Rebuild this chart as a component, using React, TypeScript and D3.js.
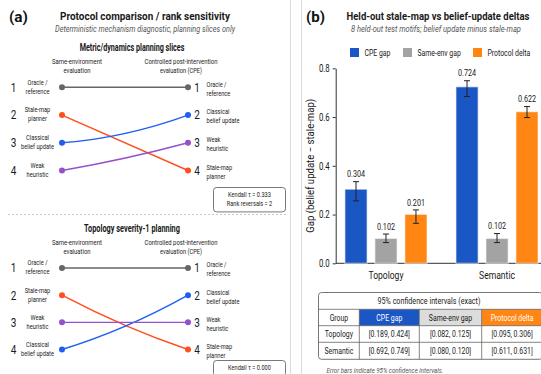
import { useEffect, useRef } from "react";
import * as d3 from "d3";

// panel (a): rank slope charts
const methodLines = [["Oracle /", "reference"], ["Stale-map", "planner"], ["Classical", "belief update"], ["Weak", "heuristic"]];
const methodColors = ["#666666", "#ff4f1f", "#1f5ff0", "#9550cc"];
const sliceTitles = ["Metric/dynamics planning slices", "Topology severity-1 planning"];
// ranks per method (Oracle, Stale-map, Classical, Weak)
const sameEnvRanks = [[1, 2, 3, 4], [1, 2, 4, 3]];
const cpeRanks = [[1, 4, 2, 3], [1, 4, 2, 3]];
const kendallLines = [["Kendall τ = 0.333", "Rank reversals = 2"], ["Kendall τ = 0.000"]];

// panel (b): grouped bars
const groups = ["Topology", "Semantic"];
const seriesNames = ["CPE gap", "Same-env gap", "Protocol delta"];
const seriesColors = ["#1a56c4", "#a3a3a3", "#ff8612"];
const gapValues = [[0.304, 0.102, 0.201], [0.724, 0.102, 0.622]];
const errLow = [[0.256, 0.085, 0.164], [0.684, 0.085, 0.598]];
const errHigh = [[0.335, 0.12, 0.219], [0.749, 0.122, 0.643]];
const yTicks = [0, 0.2, 0.4, 0.6, 0.8];
const ciRows = [
  ["[0.189, 0.424]", "[0.082, 0.125]", "[0.095, 0.306]"],
  ["[0.692, 0.749]", "[0.080, 0.120]", "[0.611, 0.631]"],
];

const FONT = "Roboto, 'Liberation Sans', sans-serif";
const SQUEEZE = 0.78; // fake a condensed face
// how much each connecting line bows downward
const lineSag = [[0, 0, 9, 3], [0, 6, 8, 0]];
const rankRange = [[87.3, 170.5], [268, 349.5]];
const sliceTop = [0, 181];
const kendallBoxY = [187.5, 360.5];

type Opts = { size?: number; bold?: boolean; italic?: boolean; anchor?: string; fill?: string; width?: number; rotate?: number; squeeze?: number };

// text squeezed horizontally, either by a fixed factor or to a measured width
function txt(parent: any, x: number, y: number, s: string | number, o: Opts = {}) {
  const t = parent.append("text")
    .attr("font-size", o.size ?? 8)
    .attr("font-weight", o.bold ? "bold" : null)
    .attr("font-style", o.italic ? "italic" : null)
    .attr("text-anchor", o.anchor ?? "start")
    .attr("fill", o.fill ?? "#1a1a1a")
    .attr("dy", "0.35em")
    .text(s);
  let k = o.squeeze ?? SQUEEZE;
  if (o.width) {
    const natural = (t.node() as SVGTextElement).getComputedTextLength();
    if (natural > 0) k = o.width / natural;
  }
  t.attr("transform", `translate(${x},${y})${o.rotate ? ` rotate(${o.rotate})` : ""} scale(${k},1)`);
  return t;
}

function App() {
  const node = useRef<HTMLDivElement>(null);

  useEffect(() => {
    d3.select(node.current).selectAll("*").remove();
    const svg = d3.select(node.current)
      .append("svg")
      .attr("width", 541)
      .attr("height", 374)
      .style("display", "block")
      .style("font-family", FONT);

    svg.append("rect").attr("width", 541).attr("height", 374).attr("fill", "white");

    // ---------- panel (a)
    txt(svg, 9, 16.5, "(a)", { size: 15, bold: true, fill: "#111", width: 19 });
    txt(svg, 145, 16, "Protocol comparison / rank sensitivity", { size: 11.8, bold: true, anchor: "middle", width: 170 });
    txt(svg, 145, 29, "Deterministic mechanism diagnostic, planning slices only", { size: 8.6, italic: true, anchor: "middle", fill: "#555", width: 180 });

    svg.append("line").attr("x1", 8).attr("x2", 286).attr("y1", 214.5).attr("y2", 214.5)
      .attr("stroke", "#bdbdbd").attr("stroke-dasharray", "2,2").attr("stroke-width", 0.8);
    svg.append("line").attr("x1", 290.5).attr("x2", 290.5).attr("y1", 0).attr("y2", 374)
      .attr("stroke", "#dadada");
    svg.append("line").attr("x1", 301.5).attr("x2", 301.5).attr("y1", 0).attr("y2", 374)
      .attr("stroke", "#dadada");

    const xLeft = 62, xRight = 188;
    sliceTitles.forEach((title, s) => {
      const g = svg.append("g").attr("transform", `translate(0,${sliceTop[s]})`);
      const y = d3.scaleLinear().domain([1, 4]).range(rankRange[s].map((v) => v - sliceTop[s]));

      txt(g, 132, 47, title, { size: 10, bold: true, anchor: "middle", width: s === 0 ? 105 : 96 });
      txt(g, 77, 61, "Same-environment", { size: 7.6, anchor: "middle", fill: "#222", width: 50 });
      txt(g, 77, 70, "evaluation", { size: 7.6, anchor: "middle", fill: "#222", width: 27 });
      txt(g, 181, 61, "Controlled post-intervention", { size: 7.6, anchor: "middle", fill: "#222", width: 73 });
      txt(g, 181, 70, "evaluation (CPE)", { size: 7.6, anchor: "middle", fill: "#222", width: 42 });

      methodLines.forEach((lines, m) => {
        const y0 = y(sameEnvRanks[s][m]);
        const y1 = y(cpeRanks[s][m]);
        const path = d3.path();
        path.moveTo(xLeft, y0);
        path.quadraticCurveTo((xLeft + xRight) / 2, (y0 + y1) / 2 + lineSag[s][m], xRight, y1);
        g.append("path").attr("d", path.toString()).attr("fill", "none")
          .attr("stroke", methodColors[m]).attr("stroke-width", 1.4);
        g.append("circle").attr("cx", xLeft).attr("cy", y0).attr("r", 3).attr("fill", methodColors[m]);
        g.append("circle").attr("cx", xRight).attr("cy", y1).attr("r", 3).attr("fill", methodColors[m]);

        txt(g, 13.5, y0, sameEnvRanks[s][m], { size: 12.5, anchor: "middle", squeeze: 0.8 });
        lines.forEach((t, i) => txt(g, 37.5, y0 - 5.3 + i * 9, t, { size: 7.7, anchor: "middle", squeeze: 0.74 }));
        txt(g, 197, y1, cpeRanks[s][m], { size: 12.5, anchor: "middle", squeeze: 0.8 });
        lines.forEach((t, i) => txt(g, 206.5, y1 - 3.3 + i * 9, t, { size: 7.7, squeeze: 0.74 }));
      });
    });

    kendallLines.forEach((kl, s) => {
      svg.append("rect").attr("x", 213.5).attr("y", kendallBoxY[s]).attr("width", 72).attr("height", 5 + kl.length * 8.7 + 2)
        .attr("rx", 3).attr("fill", "white").attr("stroke", "#555").attr("stroke-width", 0.8);
      kl.forEach((t, i) => txt(svg, 249.5, kendallBoxY[s] + 7.3 + i * 8.7, t, { size: 7.4, anchor: "middle", squeeze: 0.76 }));
    });

    // ---------- panel (b)
    txt(svg, 306, 16.5, "(b)", { size: 15, bold: true, fill: "#111", width: 19 });
    txt(svg, 438, 16, "Held-out stale-map vs belief-update deltas", { size: 11.8, bold: true, anchor: "middle", width: 183 });
    txt(svg, 436, 29.3, "8 held-out test motifs; belief update minus stale-map", { size: 8.6, italic: true, anchor: "middle", fill: "#555", width: 170 });

    const legendX = [350, 403, 473];
    seriesNames.forEach((name, i) => {
      svg.append("rect").attr("x", legendX[i]).attr("y", 48).attr("width", 9).attr("height", 9).attr("fill", seriesColors[i]);
      txt(svg, legendX[i] + 14.5, 52.5, name, { size: 9.3, squeeze: 0.74 });
    });

    const y = d3.scaleLinear().domain([0, 0.8]).range([263.3, 68.3]);
    const x0 = d3.scaleBand().domain(groups).range([341, 542]).paddingInner(0.19);
    const x1 = d3.scaleBand().domain(seriesNames).range([0, x0.bandwidth()]).paddingInner(0.26).paddingOuter(0.13);

    const yAxis = svg.append("g").attr("transform", "translate(335.7,0)")
      .call(d3.axisLeft(y).tickValues(yTicks).tickFormat(d3.format(".1f")).tickSize(3).tickSizeOuter(0));
    yAxis.select(".domain").attr("stroke", "#333");
    yAxis.selectAll(".tick line").attr("stroke", "#333");
    yAxis.selectAll(".tick text").attr("font-family", FONT).attr("font-size", 10).attr("fill", "#1a1a1a")
      .attr("transform", `scale(${SQUEEZE},1)`).attr("x", -6 / SQUEEZE);

    svg.append("line").attr("x1", 335.7).attr("x2", 541).attr("y1", 263.3).attr("y2", 263.3).attr("stroke", "#333");

    txt(svg, 310.5, y(0.4), "Gap (belief update − stale-map)", { size: 10.3, anchor: "middle", width: 134, rotate: -90 });

    groups.forEach((grp, gi) => {
      const gx = x0(grp)!;
      seriesNames.forEach((sn, si) => {
        const bx = gx + x1(sn)!;
        const bw = x1.bandwidth();
        const v = gapValues[gi][si];
        svg.append("rect").attr("x", bx).attr("y", y(v)).attr("width", bw).attr("height", y(0) - y(v))
          .attr("fill", seriesColors[si]).attr("stroke", "white").attr("stroke-opacity", 0.55).attr("stroke-width", 1.2);
        const cx = bx + bw / 2;
        const lo = y(errLow[gi][si]), hi = y(errHigh[gi][si]);
        svg.append("line").attr("x1", cx).attr("x2", cx).attr("y1", lo).attr("y2", hi).attr("stroke", "#222").attr("stroke-width", 1);
        [lo, hi].forEach((yy) => {
          svg.append("line").attr("x1", cx - 3).attr("x2", cx + 3).attr("y1", yy).attr("y2", yy)
            .attr("stroke", "#222").attr("stroke-width", 1);
        });
        txt(svg, cx, hi - 7.7, d3.format(".3f")(v), { size: 9.5, anchor: "middle", squeeze: 0.76 });
      });
      txt(svg, gx + x0.bandwidth() / 2, 274.5, grp, { size: 11.5, anchor: "middle", width: grp === "Topology" ? 35 : 36 });
    });

    // confidence interval table
    const tX = 318.5, tY = 292.5, tW = 224, rowsY = [292.5, 309.3, 325.7, 342.3, 359.3];
    const colX = [318.5, 359.3, 419.3, 481.7, 542.5];
    const headFill = ["none", seriesColors[0], "#dcdcdc", seriesColors[2]];
    const headText = ["#1a1a1a", "white", "#1a1a1a", "white"];
    const heads = ["Group", ...seriesNames];
    heads.forEach((h, i) => {
      if (headFill[i] !== "none") {
        svg.append("rect").attr("x", colX[i]).attr("y", rowsY[1]).attr("width", colX[i + 1] - colX[i])
          .attr("height", rowsY[2] - rowsY[1]).attr("fill", headFill[i]);
      }
      txt(svg, (colX[i] + colX[i + 1]) / 2, (rowsY[1] + rowsY[2]) / 2, h, { size: 9.3, anchor: "middle", squeeze: 0.74, fill: headText[i] });
    });
    svg.append("rect").attr("x", tX).attr("y", tY).attr("width", tW).attr("height", rowsY[4] - tY)
      .attr("rx", 3).attr("fill", "none").attr("stroke", "#666").attr("stroke-width", 0.9);
    rowsY.slice(1, 4).forEach((ry) => {
      svg.append("line").attr("x1", tX).attr("x2", tX + tW).attr("y1", ry).attr("y2", ry).attr("stroke", "#666").attr("stroke-width", 0.8);
    });
    colX.slice(1, 4).forEach((cx) => {
      svg.append("line").attr("x1", cx).attr("x2", cx).attr("y1", rowsY[1]).attr("y2", rowsY[4]).attr("stroke", "#666").attr("stroke-width", 0.8);
    });
    txt(svg, 429, (rowsY[0] + rowsY[1]) / 2, "95% confidence intervals (exact)", { size: 9.3, anchor: "middle", width: 103 });
    groups.forEach((grp, r) => {
      const cy = (rowsY[r + 2] + rowsY[r + 3]) / 2;
      [grp, ...ciRows[r]].forEach((t, c) => {
        txt(svg, (colX[c] + colX[c + 1]) / 2, cy, t, { size: 9.3, anchor: "middle", squeeze: 0.74 });
      });
    });

    txt(svg, 326.5, 370, "Error bars indicate 95% confidence intervals.", { size: 7.8, italic: true, fill: "#555", width: 117 });
  }, []);

  return (
    <>
      <style>{"body{margin:0}"}</style>
      <div ref={node}></div>
    </>
  );
}

export default App;
